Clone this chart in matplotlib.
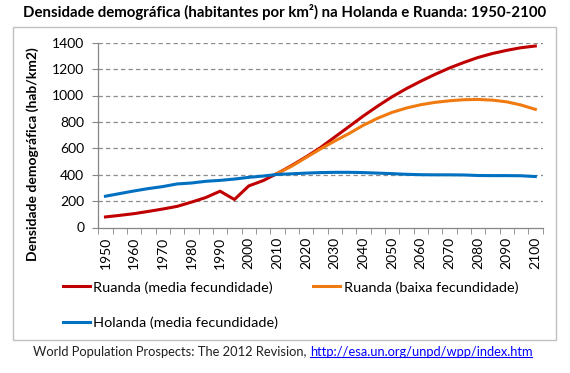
import matplotlib
matplotlib.use("Agg")
import matplotlib.pyplot as plt
from matplotlib.patches import Rectangle
from matplotlib.lines import Line2D
import numpy as np

plt.rcParams['font.family'] = ['Lato', 'DejaVu Sans']

# --- Dados (densidade, hab/km2) ---
anos = list(range(1950, 2101, 5))

ruanda_media = [80, 92, 105, 122, 140, 160, 192, 227, 275, 212,
                315, 355, 410, 470, 535, 605, 685, 765, 845, 920,
                990, 1052, 1108, 1160, 1208, 1250, 1288, 1318, 1342, 1362,
                1375]

ruanda_baixa = [None] * 12 + [410, 465, 530, 595, 655, 712, 775, 828,
                              872, 905, 930, 948, 960, 968, 970, 965, 952, 928,
                              895]

holanda_media = [237, 257, 277, 295, 310, 330, 337, 350, 357, 367,
                 380, 390, 402, 407, 412, 416, 418, 418, 416, 412,
                 408, 403, 400, 399, 399, 398, 394, 393, 393, 392,
                 386]

yticks = [0, 200, 400, 600, 800, 1000, 1200, 1400]

W, H = 570, 373
fig = plt.figure(figsize=(W / 100, H / 100), dpi=100)

def fx(px):
    return px / W

def fy(py):
    return 1 - py / H

# moldura do gráfico
fig.add_artist(Rectangle((fx(13.3), fy(340)), fx(556) - fx(13.3), fy(26.7) - fy(340),
                         transform=fig.transFigure, fill=False,
                         edgecolor="#bfbfbf", linewidth=1.0))

ax = fig.add_axes([fx(98.3), fy(227.5), fx(542.5) - fx(98.3), fy(42.7) - fy(227.5)])

x = np.arange(len(anos))
rb = np.array([np.nan if v is None else v for v in ruanda_baixa], dtype=float)

ax.plot(x, ruanda_media, color="#c00000", lw=2.2, label="Ruanda (media fecundidade)", zorder=3)
ax.plot(x, rb, color="#f07a10", lw=2.2, label="Ruanda (baixa fecundidade)", zorder=4)
ax.plot(x, holanda_media, color="#0070c0", lw=2.2, label="Holanda (media fecundidade)", zorder=5)

ax.set_xlim(-0.5, len(anos) - 0.5)
ax.set_ylim(0, 1400)
ax.set_yticks(yticks)
ax.set_yticklabels([str(v) for v in yticks])

ax.set_xticks(x[::2])
ax.set_xticklabels([str(a) for a in anos[::2]], rotation=90)
ax.set_xticks(np.arange(-0.5, len(anos)), minor=True)
ax.tick_params(axis="x", which="major", length=0, pad=7, labelsize=10)
ax.tick_params(axis="x", which="minor", length=4, color="#868686")
ax.tick_params(axis="y", length=4, pad=6, color="#868686", labelsize=10)

for g in yticks[1:]:
    ax.axhline(g, color="#8c8c8c", lw=0.9, ls=(0, (3.5, 2.5)), zorder=1)

for s in ["top", "right"]:
    ax.spines[s].set_visible(False)
for s in ["left", "bottom"]:
    ax.spines[s].set_color("#868686")
    ax.spines[s].set_linewidth(0.9)

# título e eixo
fig.text(0.5, fy(12.5), "Densidade demográfica (habitantes por km²) na Holanda e Ruanda: 1950-2100",
         ha="center", va="center", fontsize=10.8, fontweight="bold")
fig.text(fx(33), fy(154), "Densidade demográfica (hab/km2)", rotation=90,
         ha="center", va="center", fontsize=10, fontweight="bold")

# legenda (preenche por coluna: red/blue na 1a, orange na 2a)
h, l = ax.get_legend_handles_labels()
ordem = [0, 2, 1]
fig.legend([h[i] for i in ordem], [l[i] for i in ordem], ncol=2, frameon=False,
           loc="upper left", bbox_to_anchor=(fx(62.7), fy(281)),
           borderpad=0, borderaxespad=0, handlelength=1.9, handletextpad=0.22,
           columnspacing=2.4, labelspacing=1.6, fontsize=10.4)

# fonte
t1 = fig.text(fx(33), fy(352.5), "World Population Prospects: The 2012 Revision, ",
              ha="left", va="center", fontsize=9.3, color="#202020")
fig.canvas.draw()
bb = t1.get_window_extent()
x2 = bb.x1 / (W)
t2 = fig.text(x2, fy(352.5), "http://esa.un.org/unpd/wpp/index.htm",
              ha="left", va="center", fontsize=9.3, color="#0000ff")
fig.canvas.draw()
bb2 = t2.get_window_extent()
fig.add_artist(Line2D([bb2.x0 / W, bb2.x1 / W], [bb2.y0 / H + 0.004, bb2.y0 / H + 0.004],
                      color="#0000ff", lw=0.8, transform=fig.transFigure))

fig.savefig("out.png", dpi=100)
